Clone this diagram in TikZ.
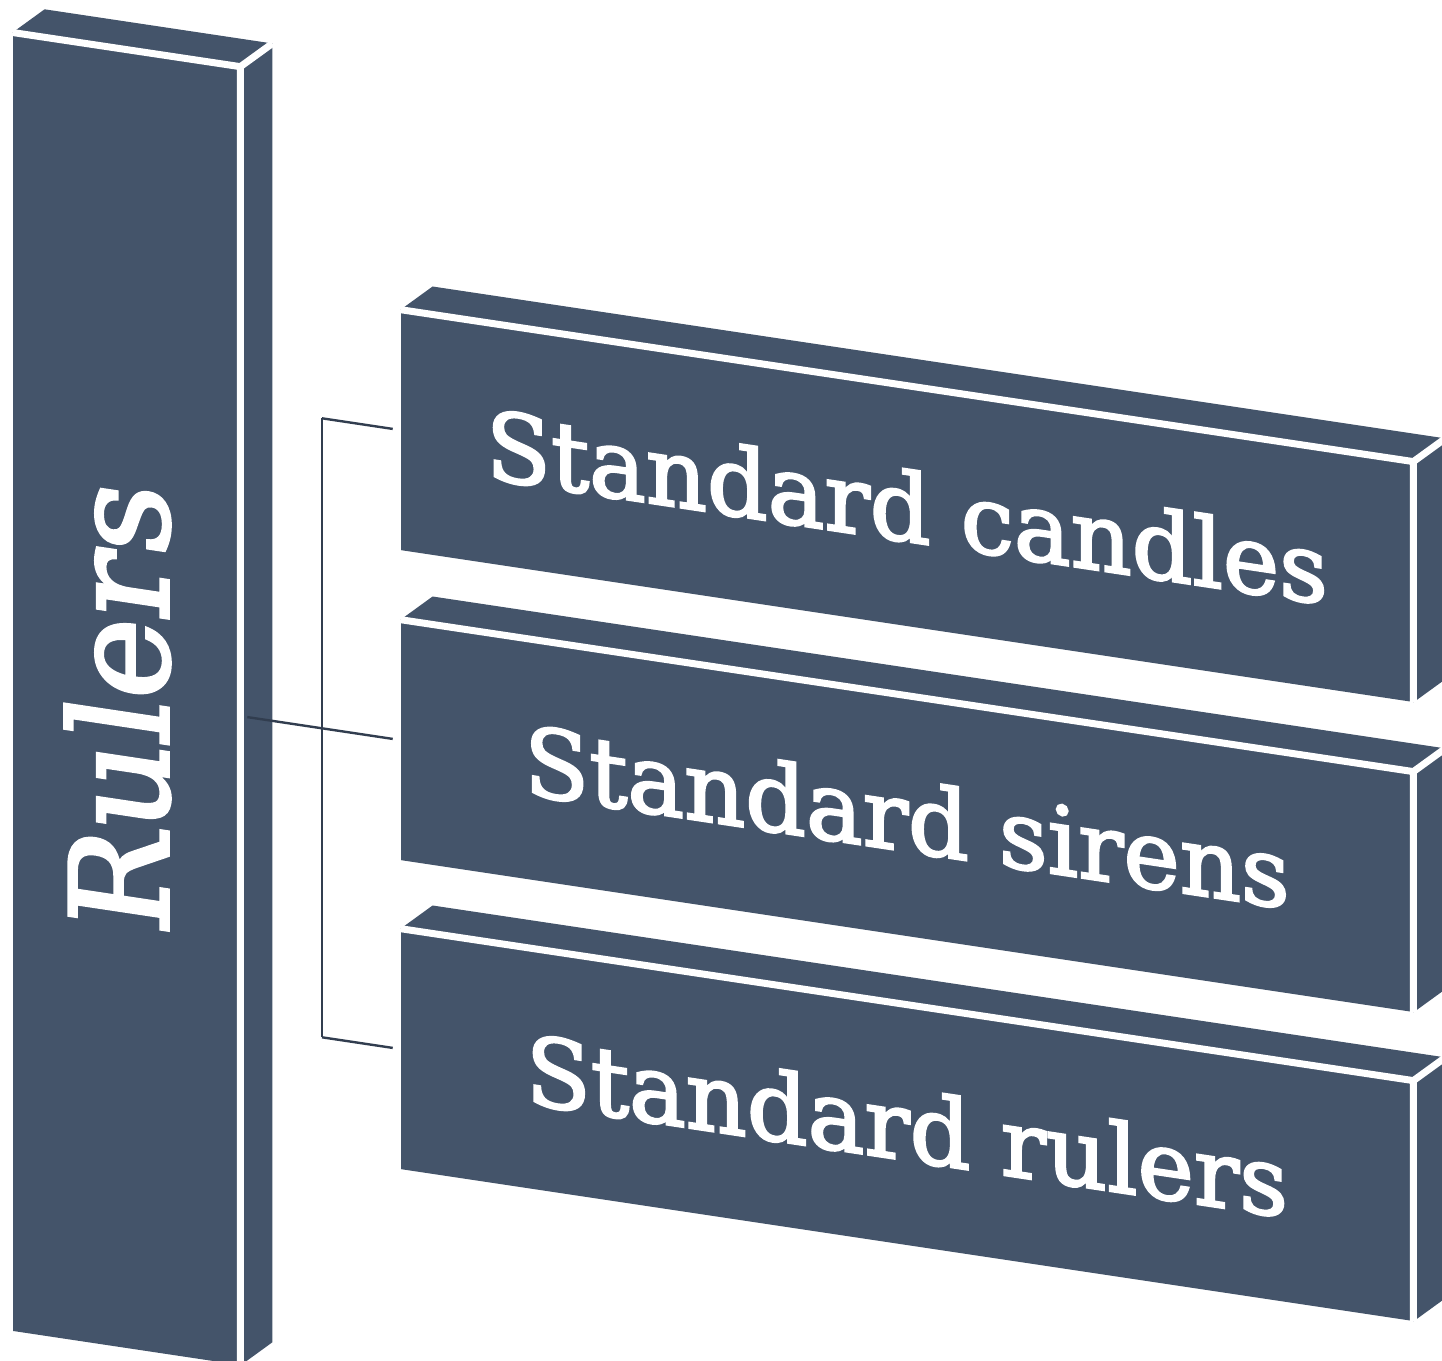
\documentclass[tikz,border=0pt]{standalone}
\usepackage{fontspec}
\setmainfont{DejaVu Serif}[FakeBold=2.5]
\usetikzlibrary{calc}
\definecolor{slate}{HTML}{44546A}
\definecolor{slatedark}{HTML}{313D4F}

\tikzset{
  front/.style={fill=slate, text=white, inner sep=0pt, transform shape},
  rim/.style={white, line width=3.5pt},
  link/.style={draw=slatedark, line width=1.2pt, shorten >=4pt}
}

\begin{document}
\begin{tikzpicture}[x=0.5pt,y=-0.5pt]
\useasboundingbox (0,0) rectangle (1442,1361);
\begin{scope}[cm={1,-0.15,0,1,(0,0)}]
% front faces
\node[front, minimum width=113.5pt, minimum height=649pt] (rulers) at (126.5,680)
  {\rotatebox{90}{\fontsize{68}{70}\selectfont Rulers\kern8pt}\kern9pt};
\node[front, minimum width=506pt, minimum height=120pt, font={\fontsize{47.5}{50}\selectfont}] (candles) at (907,370) {Standard candles};
\node[front, minimum width=506pt, minimum height=120pt, font={\fontsize{47.5}{50}\selectfont}] (sirens) at (907,680) {Standard sirens};
\node[front, minimum width=506pt, minimum height=120pt, font={\fontsize{47.5}{50}\selectfont}] (stdrulers) at (907,989) {Standard rulers};

% top and side faces
\foreach \n in {rulers,candles,sirens,stdrulers} {
  \fill[slate] (\n.north west) -- ++(32,-28) -- ($(\n.north east)+(32,-28)$) -- (\n.north east) -- cycle;
  \fill[slate] (\n.north east) -- ++(32,-28) -- ($(\n.south east)+(32,-28)$) -- (\n.south east) -- cycle;
}

% bracket
\coordinate (forktop) at (322,370);
\coordinate (forkbot) at (322,989);
\draw[slatedark, line width=1.2pt] (forktop) -- (forkbot);
\draw[link] (forktop) -- (candles.west);
\draw[link] (forkbot) -- (stdrulers.west);
\draw[link, shorten <=3.5pt] (rulers.east) -- (sirens.west);

% white edges
\foreach \n in {rulers,candles,sirens,stdrulers}
  \draw[rim] (\n.north west) -- (\n.north east) -- (\n.south east)
    (\n.north east) -- ++(32,-28);
\end{scope}
\end{tikzpicture}
\end{document}
